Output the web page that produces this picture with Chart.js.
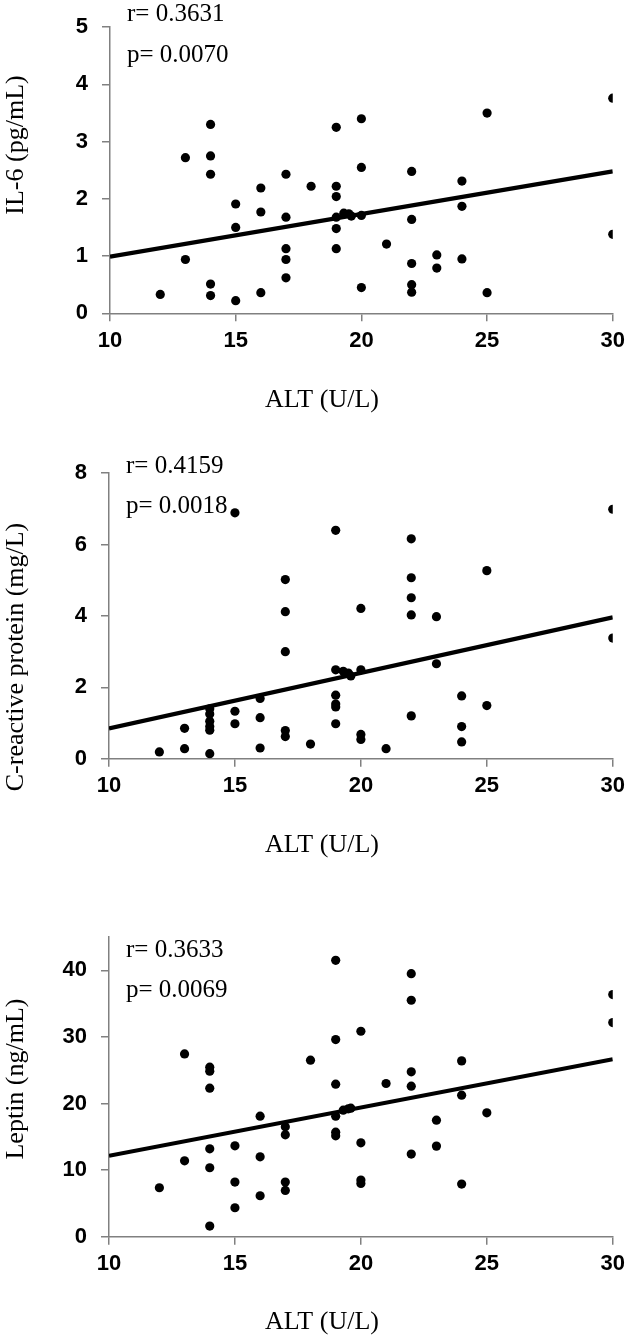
<!DOCTYPE html>
<html>
<head>
<meta charset="utf-8">
<script src="https://cdn.jsdelivr.net/npm/chart.js@4.4.1/dist/chart.umd.min.js"></script>
<style>
  html, body { margin: 0; padding: 0; background: #fff; }
  body { width: 631px; height: 1339px; position: relative; overflow: hidden; }
  canvas { position: absolute; left: 0; }
</style>
</head>
<body>
<canvas id="c1" width="631" height="446" style="top:0px"></canvas>
<canvas id="c2" width="631" height="446" style="top:446px"></canvas>
<canvas id="c3" width="631" height="447" style="top:892px"></canvas>
<script>
// ---------- DATA ----------
const altTicks = [10, 15, 20, 25, 30];
const trendAlt = [10, 30];

// Panel 1: IL-6 vs ALT
const il6Alt = [12, 13,13, 14,14,14,14,14, 15,15,15, 16,16,16, 17,17,17,17,17, 18, 19,19,19,19,19,19, 19.3,19.5,19.6, 20,20,20,20, 21, 22,22,22,22,22, 23,23, 24,24,24, 25,25, 30,30];
const il6Values = [0.33, 2.72,0.94, 3.30,2.75,2.43,0.51,0.31, 1.91,1.50,0.22, 2.19,1.77,0.36, 2.43,1.68,1.13,0.94,0.62, 2.22, 3.25,2.22,2.04,1.68,1.48,1.13, 1.75,1.74,1.70, 3.40,2.55,1.71,0.45, 1.21, 2.48,1.64,0.87,0.50,0.37, 1.02,0.79, 2.31,1.87,0.95, 3.50,0.36, 3.76,1.38];
const il6Fit = [0.99, 2.48];
const il6Ticks = [0, 1, 2, 3, 4, 5];

// Panel 2: CRP vs ALT
const crpAlt = [12, 13,13, 14,14,14,14,14,14, 15,15,15, 16,16,16, 17,17,17,17,17, 18, 19,19,19,19,19,19, 19.3,19.5,19.6, 20,20,20,20, 21, 22,22,22,22,22, 23,23, 24,24,24, 25,25, 30,30];
const crpValues = [0.19, 0.85,0.28, 1.40,1.25,1.05,0.90,0.80,0.14, 6.89,1.33,0.98, 1.69,1.15,0.30, 5.02,4.12,3.00,0.79,0.62, 0.41, 6.40,2.49,1.78,1.53,1.45,0.98, 2.45,2.40,2.32, 4.21,2.49,0.68,0.54, 0.28, 6.16,5.07,4.51,4.03,1.20, 3.98,2.66, 1.76,0.90,0.47, 5.27,1.49, 6.99,3.38];
const crpFit = [0.85, 3.96];
const crpTicks = [0, 2, 4, 6, 8];

// Panel 3: Leptin vs ALT
const leptinAlt = [12, 13,13, 14,14,14,14,14,14, 15,15,15, 16,16,16, 17,17,17,17, 18, 19,19,19,19,19,19, 19.3,19.5,19.6, 20,20,20,20, 21, 22,22,22,22,22, 23,23, 24,24,24, 25, 30,30];
const leptinValues = [7.35, 27.45,11.4, 25.45,24.85,22.3,13.2,10.35,1.6, 13.65,8.2,4.35, 18.1,12.0,6.15, 16.5,15.3,8.2,6.95, 26.5, 41.5,29.6,22.9,18.1,15.7,15.15, 19.0,19.2,19.3, 30.85,14.1,8.5,8.0, 23.0, 39.5,35.5,24.75,22.6,12.4, 17.5,13.6, 26.4,21.25,7.9, 18.6, 36.35,32.15];
const leptinFit = [12.15, 26.65];
const leptinTicks = [0, 10, 20, 30, 40];

const xTitle = 'ALT (U/L)';
const yTitles = ['IL-6 (pg/mL)', 'C-reactive protein (mg/L)', 'Leptin (ng/mL)'];
const rTexts = ['r= 0.3631', 'r= 0.4159', 'r= 0.3633'];
const pTexts = ['p= 0.0070', 'p= 0.0018', 'p= 0.0069'];

// ---------- CHART BUILDER ----------
const AXIS_COLOR = '#808080';
const TICK_FONT = { family: "'Liberation Sans', Arial, sans-serif", size: 22, weight: 'bold' };
const SERIF = "'Liberation Serif', 'Times New Roman', serif";

const textPlugin = {
  id: 'panelText',
  afterDraw(chart) {
    const o = chart.options.plugins.panelText;
    const ctx = chart.ctx;
    const off = o.canvasTop;
    ctx.save();
    ctx.fillStyle = '#000';
    // annotations
    ctx.font = '25px ' + SERIF;
    ctx.textAlign = 'left';
    ctx.textBaseline = 'alphabetic';
    ctx.fillText(o.r, o.textX, o.rY - off);
    ctx.fillText(o.p, o.textX, o.pY - off);
    // x title
    ctx.font = '26px ' + SERIF;
    ctx.textAlign = 'center';
    ctx.fillText(o.xTitle, o.xTitleX, o.xTitleY - off);
    // y title
    ctx.translate(o.yTitleX, o.yTitleY - off);
    ctx.rotate(-Math.PI / 2);
    ctx.textBaseline = 'middle';
    ctx.fillText(o.yTitle, 0, 0);
    ctx.restore();
  }
};

function makeChart(id, xs, ys, fit, yTicks, yMax, L) {
  const pts = xs.map((x, i) => ({ x: x, y: ys[i] }));
  const line = trendAlt.map((x, i) => ({ x: x, y: fit[i] }));
  return new Chart(document.getElementById(id), {
    type: 'scatter',
    data: {
      datasets: [
        { data: pts, backgroundColor: '#000', borderColor: '#000', borderWidth: 0,
          pointRadius: 4.6, pointHoverRadius: 4.6 },
        { data: line, showLine: true, borderColor: '#000', borderWidth: 4.2,
          pointRadius: 0, pointHoverRadius: 0, fill: false, borderCapStyle: 'butt' }
      ]
    },
    options: {
      responsive: false,
      animation: false,
      events: [],
      layout: { padding: { left: 0, right: 631 - L.right, top: L.top - L.canvasTop, bottom: 0 } },
      plugins: {
        legend: { display: false },
        tooltip: { enabled: false },
        panelText: {
          canvasTop: L.canvasTop, r: L.r, p: L.p, textX: L.textX, rY: L.rY, pY: L.pY,
          xTitle: xTitle, xTitleX: 322, xTitleY: L.xTitleY,
          yTitle: L.yTitle, yTitleX: 16, yTitleY: L.yTitleY
        }
      },
      scales: {
        x: {
          type: 'linear', min: 10, max: 30,
          afterBuildTicks: s => { s.ticks = altTicks.map(v => ({ value: v })); },
          afterFit: s => { s.height = L.canvasH - (L.bottom - L.canvasTop); },
          ticks: { color: '#000', font: TICK_FONT, padding: 6, maxRotation: 0 },
          grid: { drawOnChartArea: false, drawTicks: true, tickLength: 8, color: AXIS_COLOR, lineWidth: 1.5 },
          border: { display: true, color: AXIS_COLOR, width: 1.5 }
        },
        y: {
          type: 'linear', min: 0, max: yMax,
          afterBuildTicks: s => { s.ticks = yTicks.map(v => ({ value: v })); },
          afterFit: s => { s.width = L.left; },
          ticks: { color: '#000', font: TICK_FONT, padding: 14 },
          grid: { drawOnChartArea: false, drawTicks: true, tickLength: 8, color: AXIS_COLOR, lineWidth: 1.5 },
          border: { display: true, color: AXIS_COLOR, width: 1.5 }
        }
      }
    },
    plugins: [textPlugin]
  });
}

makeChart('c1', il6Alt, il6Values, il6Fit, il6Ticks, 5, {
  canvasTop: 0, canvasH: 446, left: 110, right: 615, top: 13.3, bottom: 313.3,
  r: rTexts[0], p: pTexts[0], textX: 127, rY: 21, pY: 62, xTitleY: 407,
  yTitle: yTitles[0], yTitleY: 145
});
makeChart('c2', crpAlt, crpValues, crpFit, crpTicks, 8, {
  canvasTop: 446, canvasH: 446, left: 109, right: 614, top: 458.3, bottom: 758.7,
  r: rTexts[1], p: pTexts[1], textX: 126, rY: 473, pY: 513, xTitleY: 852,
  yTitle: yTitles[1], yTitleY: 657
});
makeChart('c3', leptinAlt, leptinValues, leptinFit, leptinTicks, 45, {
  canvasTop: 892, canvasH: 447, left: 109, right: 614, top: 937, bottom: 1236.7,
  r: rTexts[2], p: pTexts[2], textX: 126, rY: 957, pY: 997, xTitleY: 1329,
  yTitle: yTitles[2], yTitleY: 1079
});
</script>
</body>
</html>
